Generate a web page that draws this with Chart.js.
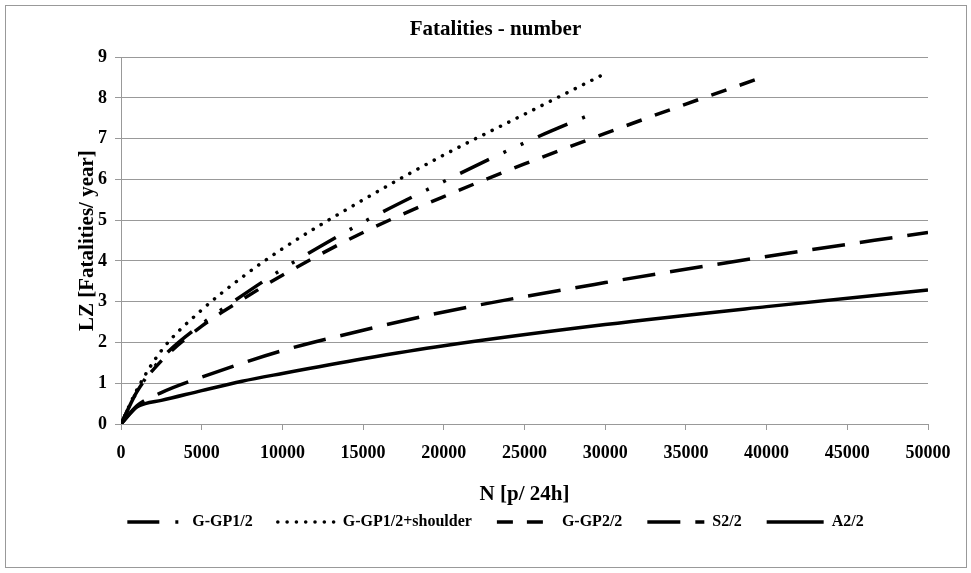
<!DOCTYPE html>
<html>
<head>
<meta charset="utf-8">
<script src="https://cdn.jsdelivr.net/npm/chart.js@4.4.1/dist/chart.umd.min.js"></script>
<style>
  html, body { margin: 0; padding: 0; background: #fff; }
  #wrap { position: relative; width: 971px; height: 573px; }
</style>
</head>
<body>
<div id="wrap"><canvas id="chartLZ" width="971" height="573"></canvas></div>
<script>
// values
const ggp1N = [0, 1000, 2500, 5000, 7500, 10000, 15000, 20000, 25000, 29600];
const ggp1LZ = [0, 0.8, 1.6, 2.45, 3.15, 3.8, 4.95, 5.95, 6.9, 7.68];

const ggp1ShN = [0, 1000, 2500, 5000, 7500, 10000, 15000, 20000, 25000, 29700];
const ggp1ShLZ = [0, 0.85, 1.8, 2.8, 3.6, 4.3, 5.5, 6.6, 7.6, 8.54];

const ggp2N = [0, 1000, 2500, 5000, 7500, 10000, 15000, 20000, 25000, 30000, 35000, 39400];
const ggp2LZ = [0, 0.8, 1.55, 2.4, 3.05, 3.65, 4.7, 5.58, 6.38, 7.13, 7.85, 8.46];

const s2N = [0, 1000, 2500, 5000, 10000, 15000, 20000, 30000, 40000, 50000];
const s2LZ = [0, 0.45, 0.77, 1.15, 1.8, 2.3, 2.75, 3.47, 4.11, 4.7];

const a2N = [0, 1000, 1500, 2500, 5000, 7500, 10000, 15000, 20000, 30000, 40000, 50000];
const a2LZ = [0, 0.42, 0.5, 0.58, 0.82, 1.05, 1.24, 1.6, 1.92, 2.44, 2.88, 3.29];

const seriesNames = ['G-GP1/2', 'G-GP1/2+shoulder', 'G-GP2/2', 'S2/2', 'A2/2'];

const gridColor = '#999999';
const fontFam = "'Liberation Serif', 'Times New Roman', serif";

const toPoints = (xs, ys) => xs.map((x, i) => ({ x: x, y: ys[i] }));

const makeSet = (label, xs, ys, dash, cap) => ({
    label: label,
    data: toPoints(xs, ys),
    borderColor: '#000',
    backgroundColor: '#000',
    borderWidth: 3.5,
    borderDash: dash,
    borderCapStyle: cap,
    pointRadius: 0,
    pointHoverRadius: 0,
    pointStyle: 'line',
    tension: 0.4,
    cubicInterpolationMode: 'monotone',
    fill: false,
});

const frame = {
    id: 'frame',
    beforeDraw(chart) {
        const ctx = chart.ctx;
        ctx.save();
        ctx.fillStyle = '#fff';
        ctx.fillRect(0, 0, chart.width, chart.height);
        ctx.strokeStyle = gridColor;
        ctx.lineWidth = 1;
        ctx.strokeRect(5.5, 5.5, 961, 562);
        ctx.restore();
    }
};

new Chart(document.getElementById('chartLZ'), {
    type: 'line',
    data: {
        datasets: [
            makeSet(seriesNames[0], ggp1N, ggp1LZ, [32, 16, 3, 16, 3, 16], 'butt'),
            makeSet(seriesNames[1], ggp1ShN, ggp1ShLZ, [0.1, 9.2], 'round'),
            makeSet(seriesNames[2], ggp2N, ggp2LZ, [16, 14], 'butt'),
            makeSet(seriesNames[3], s2N, s2LZ, [33, 15], 'butt'),
            makeSet(seriesNames[4], a2N, a2LZ, [], 'butt'),
        ],
    },
    options: {
        responsive: false,
        animation: false,
        devicePixelRatio: 1,
        layout: { padding: { left: 30, right: 10, top: 10, bottom: 33 } },
        plugins: {
            title: {
                display: true,
                text: 'Fatalities - number',
                color: '#000',
                font: { family: fontFam, size: 21, weight: 'bold' },
                padding: { top: 7, bottom: 15 },
            },
            legend: {
                position: 'bottom',
                labels: {
                    usePointStyle: true,
                    pointStyle: 'line',
                    pointStyleWidth: 57,
                    boxHeight: 14,
                    padding: 25,
                    color: '#000',
                    font: { family: fontFam, size: 16, weight: 'bold' },
                    generateLabels: (chart) => chart.data.datasets.map((ds, i) => ({
                        text: ds.label,
                        fillStyle: '#000',
                        strokeStyle: '#000',
                        fontColor: '#000',
                        lineWidth: 3.5,
                        lineDash: ds.borderDash,
                        lineCap: ds.borderCapStyle,
                        pointStyle: 'line',
                        hidden: false,
                        datasetIndex: i,
                    })),
                },
            },
            tooltip: { enabled: false },
        },
        scales: {
            x: {
                type: 'linear',
                min: 0,
                max: 50000,
                afterFit(scale) { scale.height = 65; },
                ticks: {
                    stepSize: 5000,
                    color: '#000',
                    padding: 13,
                    maxRotation: 0,
                    autoSkip: false,
                    callback: (v) => String(v),
                    font: { family: fontFam, size: 18, weight: 'bold' },
                },
                grid: { drawOnChartArea: false, drawTicks: true, tickLength: 6, color: gridColor },
                border: { color: gridColor },
                title: {
                    display: true,
                    text: 'N [p/ 24h]',
                    color: '#000',
                    font: { family: fontFam, size: 21, weight: 'bold' },
                    padding: { top: 0, bottom: -18 },
                },
            },
            y: {
                min: 0,
                max: 9,
                afterFit(scale) { scale.width = 91; },
                ticks: {
                    stepSize: 1,
                    color: '#000',
                    padding: 8,
                    font: { family: fontFam, size: 18, weight: 'bold' },
                },
                grid: { color: gridColor, tickLength: 6 },
                border: { color: gridColor },
                title: {
                    display: true,
                    text: 'LZ [Fatalities/ year]',
                    color: '#000',
                    font: { family: fontFam, size: 21, weight: 'bold' },
                    padding: { top: 45, bottom: 0 },
                },
            },
            // empty right-hand spacer so the plot ends where the reference ends
            yRight: {
                position: 'right',
                display: true,
                afterFit(scale) { scale.width = 33; },
                ticks: { display: false },
                grid: { display: false },
                border: { display: false },
            },
        },
    },
    plugins: [frame],
});
</script>
</body>
</html>
